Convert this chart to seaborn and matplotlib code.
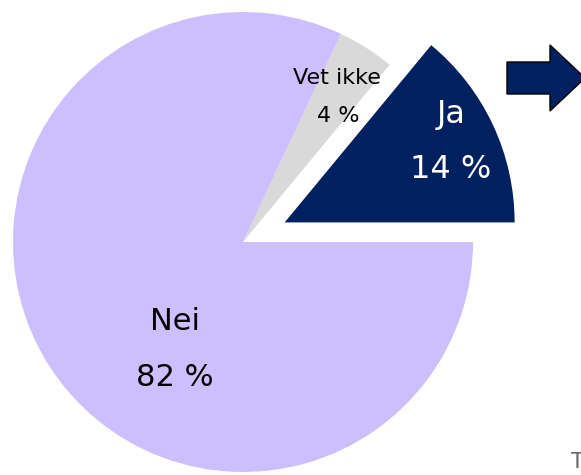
import matplotlib
matplotlib.use("Agg")
import matplotlib.pyplot as plt
import matplotlib.patches as mpatches
import seaborn as sns

# Data
categories = ["Ja", "Vet ikke", "Nei"]
shares = [14, 4, 82]
share_labels = ["14 %", "4 %", "82 %"]
slice_colors = ["#00205F", "#D9D9D9", "#CDBFFD"]


def make_chart():
    sns.set_theme(style="white")
    plt.rcParams['font.family'] = ['DejaVu Sans']

    fig = plt.figure(figsize=(5.81, 4.75), dpi=100)
    ax = fig.add_axes([0, 0, 1, 1])

    # pie, "Ja" slice pulled out
    ax.pie(shares, explode=[46, 0, 0], startangle=0, counterclock=True,
           center=(243, 233), radius=230, colors=slice_colors,
           wedgeprops={'linewidth': 0})
    ax.set_xlim(0, 581)
    ax.set_ylim(0, 475)
    ax.set_aspect('auto')
    ax.axis('off')

    # labels
    ax.text(451, 475 - 114, categories[0], color='white', fontsize=23,
            ha='center', va='center')
    ax.text(451, 475 - 170, share_labels[0], color='white', fontsize=23,
            ha='center', va='center')
    ax.text(337, 475 - 78, categories[1], color='black', fontsize=16,
            ha='center', va='center')
    ax.text(338, 475 - 116, share_labels[1], color='black', fontsize=16,
            ha='center', va='center')
    ax.text(175, 475 - 322, categories[2], color='black', fontsize=22,
            ha='center', va='center')
    ax.text(175, 475 - 378, share_labels[2], color='black', fontsize=22,
            ha='center', va='center')

    # arrow in the corner
    arrow = mpatches.FancyArrow(507, 397, 78, 0, width=32, head_width=66,
                                head_length=35, length_includes_head=True,
                                facecolor=slice_colors[0], edgecolor='black',
                                linewidth=1)
    ax.add_patch(arrow)

    # text cut off at the right edge, as in the original slide
    ax.text(571, 475 - 462, "T", color='#666666', fontsize=15,
            ha='left', va='center')

    fig.savefig('out.png', dpi=100)


if __name__ == "__main__":
    make_chart()
